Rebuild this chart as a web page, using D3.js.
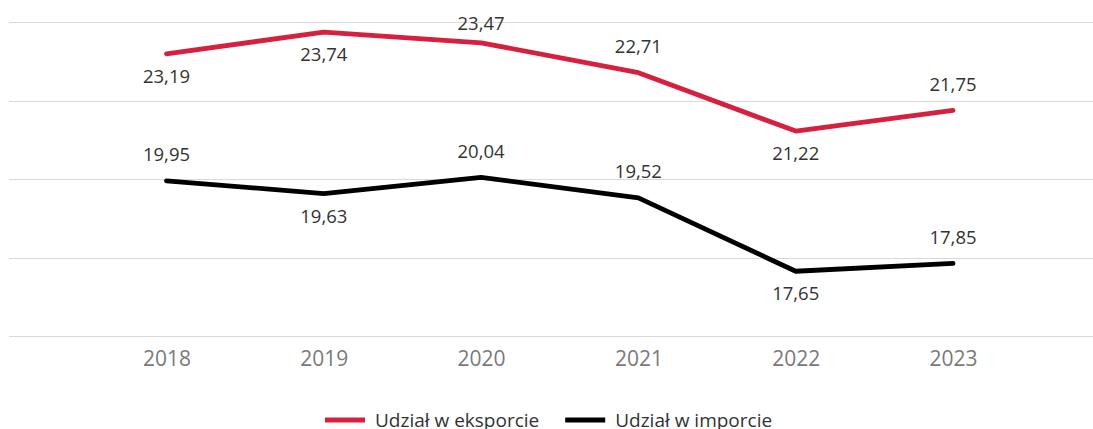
<!DOCTYPE html>
<html>
<head>
<meta charset="utf-8">
<script src="https://cdn.jsdelivr.net/npm/d3@7/dist/d3.min.js"></script>
<style>
  html, body { margin: 0; padding: 0; background: #fff; }
  svg { display: block; font-family: "Open Sans", "Noto Sans", sans-serif; }
</style>
</head>
<body>
<svg id="chart" width="1093" height="429"></svg>
<script>
const years = ["2018", "2019", "2020", "2021", "2022", "2023"];
const exportShare = [23.19, 23.74, 23.47, 22.71, 21.22, 21.75];
const importShare = [19.95, 19.63, 20.04, 19.52, 17.65, 17.85];
const exportLabelPos = ["below", "below", "above", "above", "below", "above"];
const importLabelPos = ["above", "below", "above", "above", "below", "above"];
const yTicks = [16, 18, 20, 22, 24];
const seriesNames = ["Udział w eksporcie", "Udział w imporcie"];
const seriesColors = ["#d6203f", "#000000"];

const svg = d3.select("#chart");
const W = 1093, H = 429;

const x = d3.scalePoint().domain(years).range([166.5, 953]);
const y = d3.scaleLinear().domain([16, 24]).range([336, 22]);

// gridlines
svg.append("g")
  .selectAll("line")
  .data(yTicks)
  .join("line")
  .attr("x1", 9).attr("x2", W)
  .attr("y1", d => Math.round(y(d)) + 0.5)
  .attr("y2", d => Math.round(y(d)) + 0.5)
  .attr("stroke", "#d9d9d9")
  .attr("stroke-width", 1.2);

// x axis labels
const xAxis = d3.axisBottom(x).tickSize(0).tickPadding(0);
const gx = svg.append("g").attr("transform", `translate(0,${y(16)})`).call(xAxis);
gx.select(".domain").remove();
gx.selectAll("text")
  .attr("y", 30)
  .attr("dy", 0)
  .attr("fill", "#7a7a7a")
  .style("font-size", "21px")
  .style("font-family", "'Open Sans', sans-serif");

const line = d3.line()
  .x((d, i) => x(years[i]))
  .y(d => y(d));

const series = [
  { name: seriesNames[0], values: exportShare, pos: exportLabelPos, color: seriesColors[0] },
  { name: seriesNames[1], values: importShare, pos: importLabelPos, color: seriesColors[1] }
];

series.forEach(s => {
  svg.append("path")
    .datum(s.values)
    .attr("d", line)
    .attr("fill", "none")
    .attr("stroke", s.color)
    .attr("stroke-width", 4.8)
    .attr("stroke-linejoin", "round")
    .attr("stroke-linecap", "round");
});

series.forEach(s => {
  svg.append("g")
    .selectAll("text")
    .data(s.values)
    .join("text")
    .attr("x", (d, i) => x(years[i]))
    .attr("y", (d, i) => s.pos[i] === "above" ? Math.max(y(d) - 19.5, 30) : y(d) + 29)
    .attr("text-anchor", "middle")
    .attr("fill", "#333333")
    .style("font-size", "18.5px")
    .text(d => d.toFixed(2).replace(".", ","));
});

// legend
const legend = svg.append("g");
let lx = 325;
const ly = 420;
series.forEach((s, i) => {
  legend.append("line")
    .attr("x1", lx).attr("x2", lx + 40)
    .attr("y1", ly).attr("y2", ly)
    .attr("stroke", s.color)
    .attr("stroke-width", 5);
  const t = legend.append("text")
    .attr("x", lx + 50)
    .attr("y", ly + 6.5)
    .attr("fill", "#333333")
    .style("font-size", "19px")
    .text(s.name);
  const w = t.node().getComputedTextLength();
  lx = lx + 50 + w + 26;
});
</script>
</body>
</html>
